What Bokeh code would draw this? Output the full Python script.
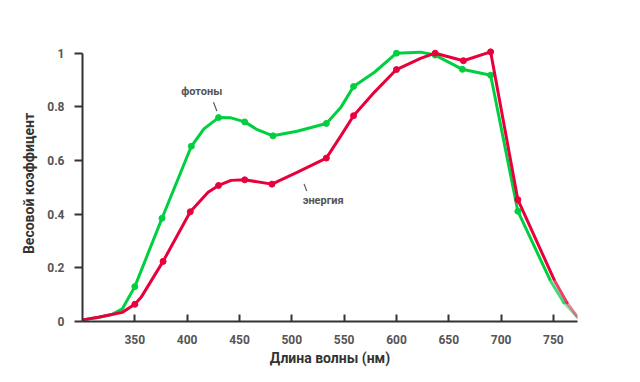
from bokeh.plotting import figure
from bokeh.models import Range1d, FixedTicker, Label
from bokeh.embed import file_html
from bokeh.resources import INLINE

# ---- data ----
x_ticks = [350, 400, 450, 500, 550, 600, 650, 700, 750]
y_ticks = [0, 0.2, 0.4, 0.6, 0.8, 1.0]
y_tick_labels = {0: "0", 0.2: "0.2", 0.4: "0.4", 0.6: "0.6", 0.8: "0.8", 1.0: "1"}

# photons (green) curve readings
photon_curve_x = [300, 315, 328, 338, 350, 376, 404, 416, 430, 442, 455, 467, 482, 505, 533,
                  547, 559, 579, 600, 623, 637, 663, 690, 716, 747, 760, 773]
photon_curve_y = [0.006, 0.015, 0.026, 0.047, 0.13, 0.385, 0.653, 0.718, 0.76, 0.759, 0.744,
                  0.715, 0.692, 0.709, 0.738, 0.799, 0.876, 0.929, 1.0, 1.004, 0.993, 0.94,
                  0.918, 0.411, 0.153, 0.07, 0.016]
photon_mark_x = [350, 376, 404, 430, 455, 482, 533, 559, 600, 637, 663, 690, 716]
photon_mark_y = [0.13, 0.385, 0.653, 0.76, 0.744, 0.692, 0.738, 0.876, 1.0, 0.993, 0.94, 0.918, 0.411]

# energy (red) curve readings
energy_curve_x = [300, 315, 328, 338, 350, 356, 377, 403, 420, 430, 442, 455, 481, 505, 533,
                  547, 559, 579, 600, 623, 637, 664, 690, 716, 751, 763, 773]
energy_curve_y = [0.006, 0.016, 0.026, 0.034, 0.064, 0.09, 0.224, 0.409, 0.482, 0.507, 0.526,
                  0.528, 0.512, 0.556, 0.609, 0.693, 0.767, 0.855, 0.939, 0.981, 1.0, 0.972,
                  1.005, 0.454, 0.153, 0.07, 0.016]
energy_mark_x = [350, 377, 403, 430, 455, 481, 533, 559, 600, 637, 664, 690, 716]
energy_mark_y = [0.064, 0.224, 0.409, 0.507, 0.528, 0.512, 0.609, 0.767, 0.939, 1.0, 0.972, 1.005, 0.454]

label_photons = "фотоны"
label_energy = "энергия"

GREEN = "#00d040"
RED = "#e8003c"
FONT = "Roboto"
TAIL = 3  # the last readings are drawn fading out

p = figure(width=632, height=374, output_backend="svg", toolbar_location=None,
           x_range=Range1d(300, 773), y_range=Range1d(0, 1.0287),
           min_border_left=82, min_border_right=55, min_border_top=45, min_border_bottom=53)
p.outline_line_color = None
p.grid.grid_line_color = None
p.background_fill_color = "white"
p.border_fill_color = "white"


def draw(xs, ys, mx, my, color):
    n = len(xs) - TAIL
    p.line(xs[:n + 1], ys[:n + 1], line_color=color, line_width=3, line_join="round")
    alphas = [0.75, 0.45, 0.2]
    for k in range(TAIL):
        i = n + k
        p.line(xs[i:i + 2], ys[i:i + 2], line_color=color, line_width=3,
               line_alpha=alphas[k], line_cap="round")
    p.scatter(mx, my, size=6, fill_color=color, line_color=color)


draw(photon_curve_x, photon_curve_y, photon_mark_x, photon_mark_y, GREEN)
draw(energy_curve_x, energy_curve_y, energy_mark_x, energy_mark_y, RED)

# axes
for ax in (p.xaxis[0], p.yaxis[0]):
    ax.axis_line_color = "#333333"
    ax.axis_line_width = 2
    ax.major_tick_line_color = "#333333"
    ax.major_tick_line_width = 2
    ax.minor_tick_line_color = None
    ax.major_label_text_font = FONT
    ax.major_label_text_font_style = "bold"
    ax.major_label_text_font_size = "12px"
    ax.major_label_text_color = "#555555"
    ax.axis_label_text_font = FONT
    ax.axis_label_text_font_style = "bold"
    ax.axis_label_text_font_size = "14px"
    ax.axis_label_text_color = "#333333"

xa = p.xaxis[0]
xa.ticker = FixedTicker(ticks=x_ticks)
xa.bounds = (300, 773)
xa.major_tick_in = 7
xa.major_tick_out = 0
xa.major_label_standoff = 13
xa.axis_label = "Длина волны (нм)"
xa.axis_label_standoff = 3

ya = p.yaxis[0]
ya.ticker = FixedTicker(ticks=y_ticks)
ya.major_label_overrides = y_tick_labels
ya.bounds = (0, 1)
ya.major_tick_in = 0
ya.major_tick_out = 8
ya.major_label_standoff = 10
ya.axis_label = "Весовой коэффицент"
ya.axis_label_standoff = 7

# annotations
p.add_layout(Label(x=414, y=0.857, text=label_photons, text_font=FONT, text_font_style="bold",
                   text_font_size="11px", text_color="#555555", text_align="center",
                   text_baseline="middle"))
p.add_layout(Label(x=530, y=0.451, text=label_energy, text_font=FONT, text_font_style="bold",
                   text_font_size="11px", text_color="#555555", text_align="center",
                   text_baseline="middle"))
p.segment(x0=[425.2, 511.7], y0=[0.817, 0.513], x1=[428.4, 514.3], y1=[0.784, 0.486],
          line_color="#555555", line_width=1.2)

open("out.html", "w").write(file_html(p, INLINE))
